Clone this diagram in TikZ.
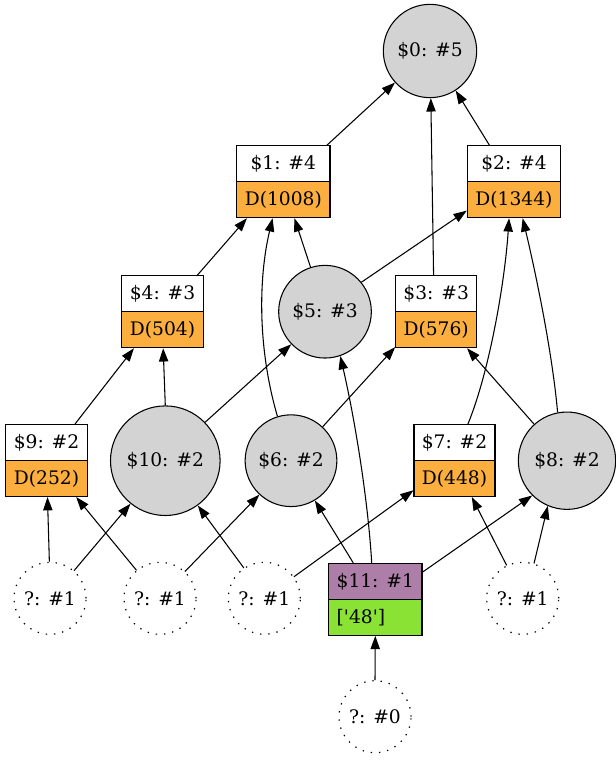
\documentclass[tikz,border=0pt]{standalone}
\usepackage{fontspec}
\setmainfont{DejaVu Serif}
\newfontfamily\rawserif{DejaVu Serif}
\usetikzlibrary{arrows.meta}
\definecolor{gorange}{HTML}{FCAF3E}
\definecolor{gplum}{HTML}{AD7FA8}
\definecolor{ggreen}{HTML}{8AE234}
\definecolor{ggray}{HTML}{D3D3D3}
\begin{document}
\begin{tikzpicture}[x=0.75pt,y=-0.75pt,
  every node/.style={font=\fontsize{14pt}{16pt}\selectfont, inner sep=0pt},
  gcirc/.style={circle, draw, line width=0.8pt, fill=ggray},
  qcirc/.style={circle, draw, line width=0.9pt, dash pattern=on 1pt off 5.2pt, minimum size=54pt},
  boxpart/.style={rectangle, draw, line width=0.8pt, minimum height=27pt},
  toppart/.style={boxpart, fill=white},
  datapart/.style={boxpart, fill=gorange},
  edge/.style={line width=0.8pt, -{Triangle[length=10pt,width=7pt]}}]
\useasboundingbox (0,0) rectangle (616,760);

% circles
\node[gcirc, minimum size=70pt] (c0) at (430,51) {\$0: \#5};
\node[gcirc, minimum size=69.5pt] (c5) at (325,311.7) {\$5: \#3};
\node[gcirc, minimum size=82.2pt] (c10) at (165.3,460.7) {\$10: \#2};
\node[gcirc, minimum size=68.8pt] (c6) at (291,460.7) {\$6: \#2};
\node[gcirc, minimum size=73pt] (c8) at (567,460.7) {\$8: \#2};

% dotted circles
\node[qcirc] (q0) at (375,716.7) {?: \#0};
\node[qcirc] (qa) at (50,598.3) {?: \#1};
\node[qcirc] (qb) at (160,598.3) {?: \#1};
\node[qcirc] (qc) at (264.3,598.3) {?: \#1};
\node[qcirc] (qd) at (522.7,598.3) {?: \#1};

% boxes
\node[toppart, minimum width=70pt] (b1t) at (283.3,163.7) {\$1: \#4};
\node[datapart, minimum width=70pt] (b1b) at (283.3,199.7) {D(1008)};
\node[toppart, minimum width=70pt] (b2t) at (514,163.7) {\$2: \#4};
\node[datapart, minimum width=70pt] (b2b) at (514,199.7) {D(1344)};
\node[toppart, minimum width=60.75pt] (b3t) at (436.2,293.7) {\$3: \#3};
\node[datapart, minimum width=60.75pt] (b3b) at (436.2,329.7) {D(576)};
\node[toppart, minimum width=61.2pt] (b4t) at (162.5,293.7) {\$4: \#3};
\node[datapart, minimum width=61.2pt] (b4b) at (162.5,329.7) {D(504)};
\node[toppart, minimum width=61.2pt] (b9t) at (46.5,442.5) {\$9: \#2};
\node[datapart, minimum width=61.2pt] (b9b) at (46.5,478.5) {D(252)};
\node[toppart, minimum width=60.75pt] (b7t) at (454.5,442.5) {\$7: \#2};
\node[datapart, minimum width=60.75pt] (b7b) at (454.5,478.5) {D(448)};
\node[boxpart, fill=gplum, minimum width=70pt] (b11t) at (375.3,581.3) {\$11: \#1};
\node[boxpart, fill=ggreen, minimum width=70pt, inner xsep=6pt, text width=58pt, align=left] (b11b) at (375.3,617.3) {\rawserif ['48']};

% edges
\draw[edge] (b1t.23) -- (c0.222);
\draw[edge] (b2t.143) -- (c0.303);
\draw[edge] (b3t.98) -- (c0.271);
\draw[edge] (b4t.28.5) -- (b1b.207.4);
\draw[edge] (c6.107) .. controls (258,350) and (258,280) .. (b1b.240.6);
\draw[edge] (c5.108.4) -- (b1b.301);
\draw[edge] (c5.39.3) -- (b2b.193.6);
\draw[edge] (b9t.33.5) -- (b4b.213.2);
\draw[edge] (c10.90) -- (b4b.272);
\draw[edge] (c10.44.5) -- (c5.224.2);
\draw[edge] (c6.47.9) -- (b3b.203);
\draw[edge] (b11t.101.3) .. controls (368,500) and (355,420) .. (c5.289.7);
\draw[edge] (b7t.54) .. controls (490,370) and (505,280) .. (b2b.255.4);
\draw[edge] (c8.101.3) .. controls (552,350) and (535,270) .. (b2b.295.8);
\draw[edge] (c8.132) -- (b3b.329.9);
\draw[edge] (qa.91.6) -- (b9b.273.8);
\draw[edge] (qa.49.5) -- (c10.231.7);
\draw[edge] (qb.130) -- (b9b.328);
\draw[edge] (qb.47) -- (c6.227.9);
\draw[edge] (qc.124.6) -- (c10.306);
\draw[edge] (qc.36.7) -- (b7b.196.5);
\draw[edge] (b11t.140.7) -- (c6.301.4);
\draw[edge] (b11t.11.5) -- (c8.225);
\draw[edge] (qd.116) -- (b7b.313.4);
\draw[edge] (qd.72.8) -- (c8.247.6);
\draw[edge] (q0.90) -- (b11b.270);
\end{tikzpicture}
\end{document}
